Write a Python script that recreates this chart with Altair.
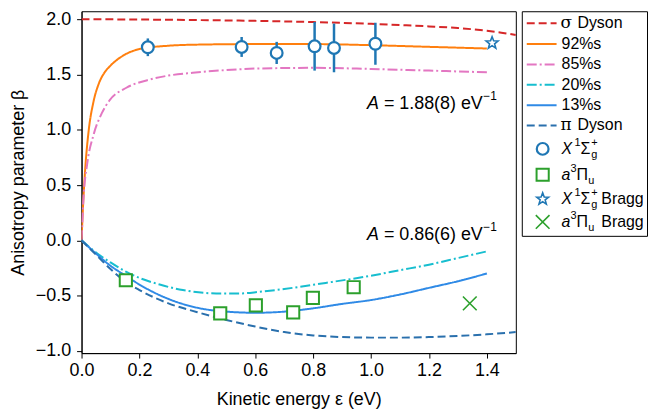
import math
import altair as alt
import pandas as pd

# ---------------- data ----------------
sigma_x = [0, 0.2, 0.4, 0.6, 0.8, 1.0, 1.1, 1.2, 1.3, 1.4, 1.45, 1.5]
sigma_y = [2.0, 1.997, 1.992, 1.985, 1.974, 1.958, 1.947, 1.935, 1.92, 1.895, 1.878, 1.858]

s92_x = [0, 0.005, 0.012, 0.025, 0.041, 0.06, 0.08, 0.1, 0.15, 0.2, 0.3, 0.4, 0.6, 0.8, 1.0, 1.2, 1.4]
s92_y = [0.0, 0.3, 0.62, 1.0, 1.25, 1.42, 1.52, 1.58, 1.68, 1.73, 1.76, 1.77, 1.775, 1.775, 1.765, 1.75, 1.735]

s85_x = [0, 0.006, 0.02, 0.041, 0.07, 0.098, 0.155, 0.229, 0.3, 0.384, 0.5, 0.61, 0.8, 1.0, 1.2, 1.4]
s85_y = [0.0, 0.35, 0.7, 0.95, 1.15, 1.27, 1.38, 1.45, 1.49, 1.515, 1.54, 1.554, 1.56, 1.55, 1.535, 1.52]

s20_x = [0, 0.05, 0.1, 0.155, 0.2, 0.27, 0.35, 0.465, 0.55, 0.613, 0.7, 0.843, 1.0, 1.1, 1.2, 1.3, 1.4]
s20_y = [0.0, -0.11, -0.2, -0.286, -0.34, -0.40, -0.45, -0.48, -0.48, -0.466, -0.44, -0.385, -0.32, -0.27, -0.22, -0.16, -0.10]

s13_x = [0, 0.05, 0.1, 0.155, 0.2, 0.3, 0.4, 0.5, 0.6, 0.7, 0.8, 0.9, 1.0, 1.1, 1.2, 1.3, 1.4]
s13_y = [0.0, -0.12, -0.23, -0.325, -0.40, -0.53, -0.61, -0.645, -0.655, -0.645, -0.615, -0.575, -0.54, -0.49, -0.43, -0.37, -0.30]

pi_x = [0, 0.05, 0.1, 0.155, 0.2, 0.3, 0.4, 0.5, 0.6, 0.7, 0.8, 0.9, 1.0, 1.1, 1.2, 1.3, 1.4, 1.5]
pi_y = [0.0, -0.13, -0.26, -0.38, -0.45, -0.57, -0.65, -0.72, -0.78, -0.83, -0.86, -0.875, -0.88, -0.88, -0.875, -0.865, -0.85, -0.83]

circle_x = [0.229, 0.553, 0.674, 0.805, 0.872, 1.015]
circle_y = [1.746, 1.749, 1.695, 1.755, 1.74, 1.778]
circle_err = [0.08, 0.09, 0.10, 0.22, 0.22, 0.19]

square_x = [0.153, 0.479, 0.602, 0.731, 0.799, 0.94]
square_y = [-0.361, -0.66, -0.588, -0.651, -0.52, -0.424]
square_err = [0.03, 0.05, 0.03, 0.03, 0.03, 0.03]

star_x = [1.418]
star_y = [1.785]
cross_x = [1.341]
cross_y = [-0.57]

annot_x = [0.986, 0.986]
annot_y = [1.231, 0.049]
annot_text = ["= 1.88(8) eV", "= 0.86(6) eV"]

series_names = ["σ Dyson", "92%s", "85%s", "20%s", "13%s", "π Dyson"]
series_colors = ["#d62728", "#ff7f0e", "#e377c2", "#17becf", "#2f8ae6", "#2a70ad"]
series_dashes = [[8, 4], [1, 0], [10, 3, 2, 3], [10, 3, 2, 3], [1, 0], [8, 4]]

BLUE = "#1f77b4"
GREEN = "#2ca02c"
FONT = "Liberation Sans"

# ---------------- tables ----------------
curves = [(sigma_x, sigma_y), (s92_x, s92_y), (s85_x, s85_y),
          (s20_x, s20_y), (s13_x, s13_y), (pi_x, pi_y)]
rows = []
for name, (xs_, ys_) in zip(series_names, curves):
    for xv, yv in zip(xs_, ys_):
        rows.append({"series": name, "x": xv, "y": yv})
df_lines = pd.DataFrame(rows)

df_circ = pd.DataFrame({"x": circle_x, "y": circle_y,
                        "lo": [a - b for a, b in zip(circle_y, circle_err)],
                        "hi": [a + b for a, b in zip(circle_y, circle_err)]})
df_sq = pd.DataFrame({"x": square_x, "y": square_y,
                      "lo": [a - b for a, b in zip(square_y, square_err)],
                      "hi": [a + b for a, b in zip(square_y, square_err)]})
df_star = pd.DataFrame({"x": star_x, "y": star_y})
df_cross = pd.DataFrame({"x": cross_x, "y": cross_y})
df_annot = pd.DataFrame({"x": annot_x, "y": annot_y, "t": annot_text})

# star path (unit coords)
pts = []
for i in range(10):
    r = 1.0 if i % 2 == 0 else 0.42
    ang = -math.pi / 2 + i * math.pi / 5
    pts.append(f"{r * math.cos(ang):.3f},{r * math.sin(ang):.3f}")
STAR = "M" + "L".join(pts) + "Z"
CROSS = "M-1,-1L1,1M-1,1L1,-1"

color_scale = alt.Scale(domain=series_names, range=series_colors)
dash_scale = alt.Scale(domain=series_names, range=series_dashes)

xs = alt.Scale(domain=[0, 1.5], nice=False, zero=False)
ys = alt.Scale(domain=[-1.02, 2.072], nice=False, zero=False)

X = alt.X("x:Q", scale=xs,
          axis=alt.Axis(values=[0, 0.2, 0.4, 0.6, 0.8, 1.0, 1.2, 1.4], format=".1f",
                        title="Kinetic energy ε (eV)", titlePadding=11, labelPadding=4,
                        labelFlush=False))
Y = alt.Y("y:Q", scale=ys,
          axis=alt.Axis(values=[-1.0, -0.5, 0.0, 0.5, 1.0, 1.5, 2.0], format=".1f",
                        title="Anisotropy parameter β", titlePadding=8, labelPadding=6,
                        labelFlush=False))

lines = alt.Chart(df_lines).mark_line(strokeWidth=2, interpolate="monotone", clip=True).encode(
    x=X, y=Y,
    color=alt.Color("series:N", scale=color_scale, legend=None),
    strokeDash=alt.StrokeDash("series:N", scale=dash_scale, legend=None),
)

circ_err = alt.Chart(df_circ).mark_rule(strokeWidth=2.5, color=BLUE).encode(
    x="x:Q", y="lo:Q", y2="hi:Q")
circ_pts = alt.Chart(df_circ).mark_point(shape="circle", size=140, fill="white", fillOpacity=1,
                                         stroke=BLUE, strokeWidth=2.2, opacity=1).encode(x="x:Q", y="y:Q")
sq_err = alt.Chart(df_sq).mark_rule(strokeWidth=2, color=GREEN).encode(
    x="x:Q", y="lo:Q", y2="hi:Q")
sq_pts = alt.Chart(df_sq).mark_point(shape="square", size=150, fill="white", fillOpacity=1,
                                     stroke=GREEN, strokeWidth=2, opacity=1).encode(x="x:Q", y="y:Q")
star_pts = alt.Chart(df_star).mark_point(shape=STAR, size=160, fill="white", fillOpacity=1,
                                         stroke=BLUE, strokeWidth=1.6, opacity=1).encode(x="x:Q", y="y:Q")
cross_pts = alt.Chart(df_cross).mark_point(shape=CROSS, size=190, stroke=GREEN,
                                           strokeWidth=1.6, opacity=1).encode(x="x:Q", y="y:Q")

annot_A = alt.Chart(df_annot).mark_text(text="A", font=FONT, fontSize=18, fontStyle="italic",
                                        align="left", baseline="middle", color="black").encode(x="x:Q", y="y:Q")
annot_rest = alt.Chart(df_annot).mark_text(font=FONT, fontSize=18, align="left", baseline="middle",
                                           dx=17, color="black").encode(x="x:Q", y="y:Q", text="t:N")
annot_sup = alt.Chart(df_annot).mark_text(text="−1", font=FONT, fontSize=12, align="left",
                                          baseline="middle", dx=117, dy=-8, color="black").encode(x="x:Q", y="y:Q")

main = alt.layer(lines, circ_err, sq_err, circ_pts, sq_pts, star_pts, cross_pts,
                 annot_A, annot_rest, annot_sup).properties(width=437, height=344)

# ---------------- hand-built legend panel ----------------
LW, LH = 126, 226
row_y = [12, 33, 53.5, 74, 94.5, 115, 138.5, 164.5, 189, 212]

leg_lines = pd.DataFrame({"series": series_names, "y": row_y[:6],
                          "x0": [5] * 6, "x1": [35] * 6})
lx = alt.Scale(domain=[0, LW], nice=False, zero=False)
ly = alt.Scale(domain=[0, LH], nice=False, zero=False, reverse=True)

LX = alt.X("x:Q", scale=lx, axis=None)
LY = alt.Y("y:Q", scale=ly, axis=None)

leg_rule = alt.Chart(leg_lines).mark_rule(strokeWidth=2).encode(
    x=alt.X("x0:Q", scale=lx, axis=None), x2="x1:Q", y=LY,
    color=alt.Color("series:N", scale=color_scale, legend=None),
    strokeDash=alt.StrokeDash("series:N", scale=dash_scale, legend=None))

mk = lambda i: pd.DataFrame({"x": [21], "y": [row_y[i]]})
leg_c = alt.Chart(mk(6)).mark_point(shape="circle", size=140, fill="white", fillOpacity=1,
                                    stroke=BLUE, strokeWidth=2.2, opacity=1).encode(x=LX, y=LY)
leg_s = alt.Chart(mk(7)).mark_point(shape="square", size=150, fill="white", fillOpacity=1,
                                    stroke=GREEN, strokeWidth=2, opacity=1).encode(x=LX, y=LY)
leg_st = alt.Chart(mk(8)).mark_point(shape=STAR, size=160, fill="white", fillOpacity=1,
                                     stroke=BLUE, strokeWidth=1.6, opacity=1).encode(x=LX, y=LY)
leg_x = alt.Chart(mk(9)).mark_point(shape=CROSS, size=190, stroke=GREEN,
                                    strokeWidth=1.6, opacity=1).encode(x=LX, y=LY)

pieces = []
def add(row, x, t, style, off=0):
    pieces.append({"x": x, "y": row_y[row] + off, "t": t, "style": style})

add(0, 39, "σ", "greek"); add(0, 56, "Dyson", "n")
for i in range(1, 5):
    add(i, 40, series_names[i], "n")
add(5, 39, "π", "greek"); add(5, 56, "Dyson", "n")
for r in (6, 8):
    add(r, 40, "X", "i"); add(r, 53, "1", "s", -6); add(r, 59, "Σ", "n")
    add(r, 70, "+", "s", -6); add(r, 70, "g", "s", 6)
for r in (7, 9):
    add(r, 40, "a", "i"); add(r, 49, "3", "s", -6); add(r, 55, "Π", "n")
    add(r, 67, "u", "s", 6)
add(8, 80, "Bragg", "n"); add(9, 80, "Bragg", "n")
df_p = pd.DataFrame(pieces)

def ptext(style, **kw):
    return alt.Chart(df_p).transform_filter(alt.datum.style == style).mark_text(
        align="left", baseline="middle", color="black", **kw).encode(x=LX, y=LY, text="t:N")

leg_texts = [
    ptext("n", font=FONT, fontSize=16),
    ptext("i", font=FONT, fontSize=16, fontStyle="italic"),
    ptext("greek", font="DejaVu Serif", fontSize=17),
    ptext("s", font=FONT, fontSize=11),
]

legend = alt.layer(leg_rule, leg_c, leg_s, leg_st, leg_x, *leg_texts).properties(width=LW, height=LH)

chart = alt.hconcat(main, legend, spacing=4).resolve_scale(
    x="independent", y="independent", color="shared", strokeDash="shared"
).properties(padding=0).configure_view(stroke="black", strokeWidth=1).configure_axis(
    grid=False, labelFont=FONT, titleFont=FONT, labelFontSize=18, titleFontSize=18,
    labelColor="black", titleColor="black", tickColor="black", domainColor="black",
    tickSize=5, tickWidth=1, domainWidth=1, titleFontWeight="normal"
)

chart.save("out.html", embed_options={"renderer": "svg", "actions": False})
